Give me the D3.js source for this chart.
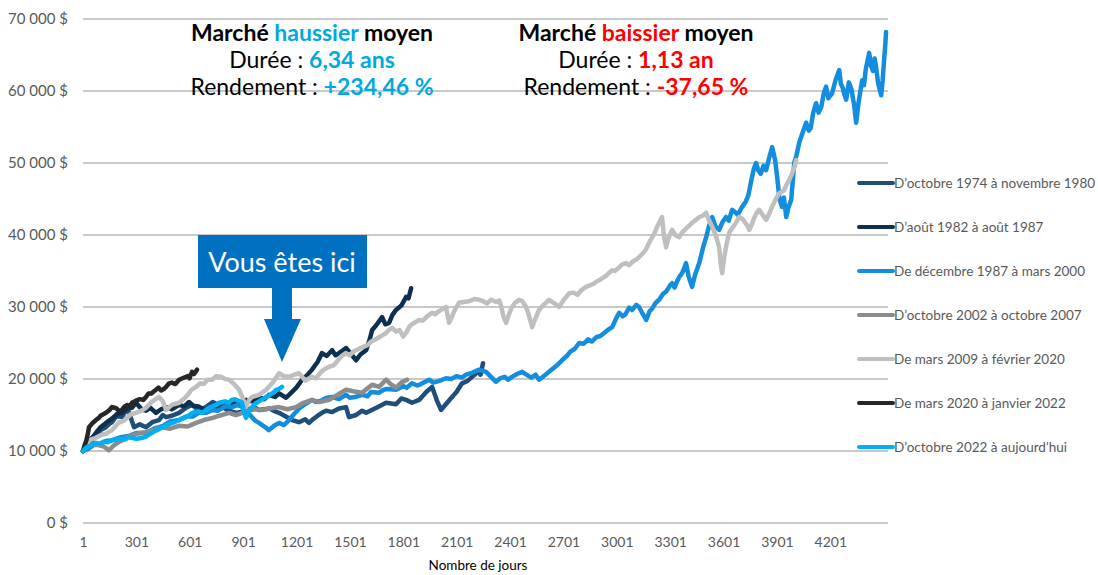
<!DOCTYPE html>
<meta charset="utf-8">
<style>
  body { margin: 0; background: #ffffff; }
  svg { display: block; }
  .tick text { font-family: Lato, sans-serif; fill: #595959; }
  .legend text { font-family: Lato, sans-serif; font-size: 13.5px; fill: #595959; }
  .head { font-family: Lato, sans-serif; font-size: 23px; fill: #000000; text-anchor: middle; }
</style>
<body>
<script src="https://d3js.org/d3.v7.min.js"></script>
<script>

// legend labels and colours, in drawing order
var seriesNames = [
  "D\u2019octobre 1974 à novembre 1980",
  "D\u2019août 1982 à août 1987",
  "De décembre 1987 à mars 2000",
  "D\u2019octobre 2002 à octobre 2007",
  "De mars 2009 à février 2020",
  "De mars 2020 à janvier 2022",
  "D\u2019octobre 2022 à aujourd\u2019hui"
];
var seriesColors = ["#1f4e79", "#0d2f50", "#138ddd", "#8c8c8c", "#bfbfbf", "#262626", "#00b0f0"];

// [nombre de jours, valeur $]
var s1974 = [[1,10000],[20,10500],[35,10800],[55,11600],[74,12000],[100,12900],[130,13300],[150,13800],[164,14000],[190,14900],[220,14700],[240,15600],[260,15400],[275,14200],[288,13300],[320,13700],[355,13300],[390,14000],[428,14300],[450,15000],[468,14700],[500,14900],[541,15300],[580,16000],[614,16400],[650,15700],[692,16100],[730,16800],[765,16400],[810,15700],[861,15300],[920,15600],[960,16100],[990,15700],[1050,15900],[1080,15500],[1103,15300],[1140,14800],[1176,14300],[1215,14000],[1250,14400],[1271,13900],[1288,14300],[1320,14900],[1344,15300],[1367,15600],[1401,15400],[1440,15900],[1479,16100],[1496,14700],[1536,15000],[1570,15600],[1592,15300],[1650,16000],[1680,16400],[1704,16700],[1760,16500],[1790,17300],[1817,17100],[1850,16700],[1890,17100],[1930,18200],[1963,18900],[1990,17000],[2013,15700],[2040,16500],[2075,17500],[2100,18200],[2131,19400],[2160,19700],[2188,20300],[2220,21000],[2235,20600],[2249,22200]];
var s1982 = [[1,10000],[20,10900],[35,11500],[55,11900],[74,12500],[100,13300],[130,13900],[164,14500],[190,15100],[220,15300],[250,15900],[276,16000],[299,16700],[330,15800],[355,15600],[380,16000],[411,15300],[440,15800],[468,16100],[500,15800],[541,16400],[570,16200],[597,16800],[620,16300],[650,16200],[692,15600],[730,15900],[765,15800],[800,16300],[838,16700],[880,16500],[917,17100],[950,16900],[990,17500],[1020,17200],[1046,17800],[1080,17500],[1103,18000],[1142,17400],[1159,17800],[1200,18800],[1232,19900],[1260,20500],[1288,21300],[1320,22400],[1344,23600],[1370,23200],[1401,24000],[1420,23300],[1440,23600],[1479,24300],[1510,23400],[1536,22600],[1560,23400],[1592,24000],[1610,25300],[1626,26800],[1650,27500],[1682,28600],[1700,27600],[1721,27800],[1740,28900],[1760,29600],[1790,30200],[1817,31400],[1830,31200],[1845,32600]];
var s1987 = [[1,10000],[30,10300],[60,10800],[100,11000],[130,11400],[164,11500],[210,11900],[260,12100],[300,12500],[355,12500],[400,13100],[450,13500],[490,14100],[541,14300],[580,14800],[620,14800],[650,15300],[692,15300],[730,15700],[760,15600],[800,16200],[838,16100],[870,16400],[895,16100],[920,15200],[940,15000],[965,14300],[990,13900],[1020,13400],[1046,12900],[1075,13500],[1103,13900],[1130,13600],[1159,14300],[1190,15200],[1220,16000],[1250,16500],[1288,17100],[1310,16800],[1340,17000],[1370,17400],[1401,17500],[1440,17200],[1479,17800],[1500,17400],[1530,17500],[1569,17800],[1600,17600],[1620,18200],[1665,18100],[1690,18500],[1710,18600],[1760,18500],[1800,19000],[1820,18800],[1850,19400],[1880,19100],[1900,19300],[1946,19900],[1970,19500],[2000,19700],[2041,20100],[2070,20000],[2100,20400],[2130,20200],[2154,20600],[2190,20900],[2227,21300],[2266,21000],[2290,20400],[2322,19600],[2345,20100],[2370,20300],[2390,19900],[2412,20300],[2440,20700],[2469,21000],[2500,20500],[2520,20200],[2545,20600],[2564,19900],[2600,20600],[2630,21200],[2660,21800],[2693,22600],[2720,23200],[2740,23800],[2765,24200],[2789,25000],[2815,24900],[2840,25500],[2860,25200],[2885,25800],[2910,26000],[2930,26400],[2955,26900],[2975,27200],[2995,28300],[3014,29200],[3035,28700],[3050,29000],[3070,29900],[3087,29600],[3110,30300],[3126,30000],[3145,29100],[3166,28200],[3185,29400],[3200,29800],[3220,30600],[3239,31000],[3260,31800],[3280,32200],[3300,33000],[3312,33300],[3325,32700],[3340,33600],[3355,34300],[3368,34700],[3380,35400],[3390,36100],[3405,34200],[3424,32800],[3440,34400],[3464,36100],[3485,38200],[3503,39700],[3520,41300],[3537,42500],[3555,41200],[3576,40700],[3595,41800],[3615,42500],[3630,42000],[3649,43500],[3665,43200],[3680,42800],[3705,43900],[3725,44600],[3740,45500],[3761,48100],[3772,49300],[3784,50000],[3795,49000],[3810,48500],[3825,49600],[3840,49000],[3858,50800],[3874,52200],[3890,50500],[3902,48100],[3915,45000],[3930,43900],[3940,45200],[3953,42500],[3965,43800],[3981,44900],[3990,47500],[3998,50000],[4010,51000],[4026,52800],[4045,54200],[4065,55600],[4080,54500],[4090,54800],[4105,57000],[4121,58300],[4135,57000],[4150,57800],[4165,59800],[4177,60600],[4190,59000],[4211,59700],[4230,61500],[4251,62900],[4260,61000],[4270,60500],[4280,59500],[4290,58800],[4305,61200],[4320,60200],[4335,58000],[4346,55600],[4360,58500],[4380,61500],[4390,60800],[4400,63000],[4419,65300],[4430,63500],[4440,62800],[4450,64500],[4458,63300],[4470,61000],[4487,59400],[4495,61500],[4503,64300],[4510,66500],[4514,68200]];
var s2002 = [[1,10000],[35,11100],[60,10900],[91,10800],[120,10600],[147,10100],[175,10800],[200,11200],[230,11600],[260,12000],[300,12400],[350,12600],[400,12900],[445,13300],[490,13100],[540,13500],[590,13400],[636,13900],[680,14300],[730,14600],[770,14900],[822,15300],[860,15000],[910,15400],[960,15800],[1007,15700],[1050,15900],[1103,16100],[1150,15800],[1198,16100],[1240,16700],[1288,17100],[1330,16800],[1384,17100],[1430,17800],[1479,18500],[1520,18300],[1569,18100],[1600,18700],[1626,19200],[1665,18900],[1704,19900],[1730,19300],[1760,18800],[1790,19500],[1822,19900]];
var s2009 = [[1,10000],[35,11500],[70,11800],[100,12200],[130,12400],[164,12900],[200,13900],[230,14200],[270,15100],[299,15300],[330,15600],[355,16000],[390,16900],[428,17500],[450,16900],[468,15700],[500,16400],[541,16700],[570,17300],[590,17800],[610,18500],[636,18900],[660,19400],[680,19300],[700,19900],[726,19900],[750,20400],[780,20300],[800,20000],[822,19900],[850,19300],[878,18500],[900,17300],[917,16100],[935,17100],[951,17500],[990,17800],[1030,18500],[1070,19600],[1103,20800],[1130,20400],[1159,20300],[1190,20600],[1215,20800],[1250,19800],[1288,20300],[1310,20100],[1340,21000],[1360,21400],[1384,21700],[1410,21900],[1430,22500],[1455,23200],[1479,23600],[1500,23300],[1520,23800],[1545,24100],[1569,24400],[1600,24700],[1620,25200],[1645,25500],[1665,25800],[1685,26100],[1700,26300],[1720,26800],[1738,27100],[1760,26600],[1780,26800],[1800,25900],[1817,26400],[1835,27300],[1850,27600],[1870,27900],[1890,28200],[1910,28100],[1930,28600],[1945,28900],[1963,29200],[1980,29000],[2000,29400],[2020,29700],[2041,30000],[2050,28800],[2058,27800],[2070,28400],[2085,29300],[2100,30000],[2115,30600],[2140,30700],[2170,30800],[2200,31100],[2227,31000],[2250,30800],[2270,30500],[2295,31000],[2322,30700],[2340,30900],[2350,30200],[2365,28600],[2379,27800],[2395,29000],[2412,30000],[2430,30600],[2452,31000],[2470,30800],[2491,30000],[2505,29000],[2515,28100],[2525,27200],[2545,28500],[2564,29600],[2590,30300],[2620,31000],[2650,30500],[2677,30000],[2700,30900],[2733,31900],[2755,32000],[2780,31700],[2800,32300],[2828,32800],[2850,33000],[2870,33200],[2885,33500],[2901,33700],[2920,34000],[2940,34300],[2960,34800],[2975,35100],[2990,35000],[3010,35400],[3030,35900],[3053,36100],[3070,35800],[3090,36300],[3110,36600],[3126,36900],[3145,37400],[3160,37800],[3170,38300],[3182,38900],[3195,39500],[3210,40100],[3225,41000],[3239,41700],[3255,42500],[3265,40000],[3278,38300],[3290,39500],[3312,40700],[3330,40000],[3351,39700],[3370,40400],[3390,40900],[3405,41200],[3424,41700],[3445,42100],[3465,42500],[3485,42700],[3503,43100],[3520,42000],[3540,41000],[3560,39700],[3576,38300],[3585,36000],[3593,34700],[3605,37000],[3620,39000],[3632,40300],[3645,40800],[3660,41300],[3675,41900],[3688,42500],[3705,42300],[3720,41800],[3735,41300],[3745,40700],[3760,41500],[3770,42200],[3785,43000],[3801,43500],[3820,42800],[3840,42100],[3858,43000],[3875,44000],[3895,45000],[3913,45800],[3928,46000],[3940,46200],[3955,47000],[3969,47600],[3985,48500],[4000,49500],[4009,50400]];
var s2020 = [[1,10000],[10,10800],[20,11500],[28,12400],[35,13300],[55,13900],[74,14300],[90,14600],[100,14900],[115,15100],[130,15300],[150,15700],[164,16100],[180,16000],[190,15900],[205,15500],[220,15700],[235,16200],[250,16400],[265,16200],[276,16700],[300,17000],[320,17200],[340,17100],[355,17500],[370,18000],[385,18000],[400,18300],[411,18500],[425,18800],[440,18400],[455,18600],[468,18900],[485,19400],[500,19500],[520,19300],[541,19900],[560,20100],[580,20300],[590,20400],[600,20100],[607,20600],[614,21000],[625,20700],[642,21300]];
var s2022 = [[1,10000],[20,10500],[40,10700],[55,10900],[74,11100],[95,11000],[120,11300],[140,11200],[164,11500],[190,11600],[210,11700],[235,11600],[260,11900],[280,11800],[300,11700],[330,11800],[355,12000],[380,12400],[400,12700],[425,13000],[445,13300],[470,13600],[490,13800],[515,14000],[541,14300],[560,14500],[580,14700],[600,15000],[614,15300],[630,15400],[650,15500],[670,15300],[692,15700],[710,16000],[730,16200],[750,16400],[765,16700],[785,16800],[800,16900],[820,16700],[838,17100],[855,17200],[870,17000],[885,16900],[895,16700],[905,15600],[917,14600],[930,15400],[951,16100],[970,16600],[990,16900],[1010,17200],[1030,17500],[1045,17700],[1060,17900],[1075,18200],[1086,18500],[1100,18600],[1120,18900]];
var seriesData = [s1974, s1982, s1987, s2002, s2009, s2020, s2022];

var yTicks = [0, 10000, 20000, 30000, 40000, 50000, 60000, 70000];
var xTicks = [1, 301, 601, 901, 1201, 1501, 1801, 2101, 2401, 2701, 3001, 3301, 3601, 3901, 4201];

var width = 1098, height = 575;
var plot = {left: 83, right: 888, top: 19, bottom: 523};

var svg = d3.select("body").append("svg")
  .attr("width", width)
  .attr("height", height);

var x = d3.scaleLinear().domain([1, 4525]).range([plot.left, plot.right]);
var y = d3.scaleLinear().domain([0, 70000]).range([plot.bottom, plot.top]);

var frLocale = d3.formatLocale({decimal: ",", thousands: "\u00a0", grouping: [3], currency: ["", "\u00a0$"]});
var fmtMoney = frLocale.format("$,.0f");

// horizontal gridlines
svg.append("g")
  .selectAll("line")
  .data(yTicks)
  .enter().append("line")
    .attr("x1", plot.left)
    .attr("x2", plot.right)
    .attr("y1", function(d) { return y(d); })
    .attr("y2", function(d) { return y(d); })
    .attr("stroke", "#c8c8c8")
    .attr("stroke-width", 2);

// y axis labels
var yAxis = d3.axisLeft(y).tickValues(yTicks).tickSize(0).tickPadding(15).tickFormat(fmtMoney);
svg.append("g")
  .attr("transform", "translate(" + plot.left + ",0)")
  .call(yAxis)
  .call(function(g) { g.select(".domain").remove(); })
  .selectAll("text")
    .style("font-size", "15px");

// x axis labels
var xAxis = d3.axisBottom(x).tickValues(xTicks).tickSize(0).tickPadding(14).tickFormat(d3.format("d"));
svg.append("g")
  .attr("transform", "translate(0," + plot.bottom + ")")
  .call(xAxis)
  .call(function(g) { g.select(".domain").remove(); })
  .selectAll("text")
    .style("font-size", "14px");

svg.append("text")
  .attr("x", 478)
  .attr("y", 570)
  .attr("text-anchor", "middle")
  .style("font-family", "Lato, sans-serif")
  .style("font-size", "13.5px")
  .style("fill", "#000000")
  .text("Nombre de jours");

// the series
var line = d3.line()
  .x(function(d) { return x(d[0]); })
  .y(function(d) { return y(d[1]); });

svg.append("g")
  .selectAll("path")
  .data(seriesData)
  .enter().append("path")
    .attr("d", line)
    .attr("fill", "none")
    .attr("stroke", function(d, i) { return seriesColors[i]; })
    .attr("stroke-width", 4.5)
    .attr("stroke-linejoin", "round")
    .attr("stroke-linecap", "round");

// legend
var legend = svg.append("g").attr("class", "legend")
  .selectAll("g")
  .data(seriesNames)
  .enter().append("g")
    .attr("transform", function(d, i) { return "translate(859," + (183 + i * 44) + ")"; });

legend.append("line")
  .attr("x1", 0).attr("x2", 34)
  .attr("stroke", function(d, i) { return seriesColors[i]; })
  .attr("stroke-width", 4)
  .attr("stroke-linecap", "round");

legend.append("text")
  .attr("x", 35)
  .attr("dy", "0.35em")
  .text(function(d) { return d; });

// headline blocks
function headBlock(cx, word, wordColor, duree, rendement) {
  var t1 = svg.append("text").attr("class", "head").attr("x", cx).attr("y", 41).style("font-weight", "bold");
  t1.append("tspan").text("Marché ");
  t1.append("tspan").style("fill", wordColor).text(word);
  t1.append("tspan").text(" moyen");

  var t2 = svg.append("text").attr("class", "head").attr("x", cx).attr("y", 68);
  t2.append("tspan").text("Durée\u00a0: ");
  t2.append("tspan").style("fill", wordColor).style("font-weight", "bold").text(duree);

  var t3 = svg.append("text").attr("class", "head").attr("x", cx).attr("y", 95);
  t3.append("tspan").text("Rendement\u00a0: ");
  t3.append("tspan").style("fill", wordColor).style("font-weight", "bold").text(rendement);
}
headBlock(312, "haussier", "#00a9e0", "6,34 ans", "+234,46 %");
headBlock(636, "baissier", "#ff0000", "1,13 an", "-37,65 %");

// "Vous êtes ici" callout with arrow
var callout = svg.append("g");
callout.append("rect")
  .attr("x", 198).attr("y", 235)
  .attr("width", 169).attr("height", 53)
  .attr("fill", "#0070c0");
callout.append("text")
  .attr("x", 282).attr("y", 272)
  .attr("text-anchor", "middle")
  .style("font-family", "Lato, sans-serif")
  .style("font-size", "27px")
  .style("fill", "#ffffff")
  .text("Vous êtes ici");
callout.append("path")
  .attr("d", "M272,288 L292,288 L292,319 L301,319 L282,362 L264,319 L272,319 Z")
  .attr("fill", "#0070c0");

</script>
</body>
